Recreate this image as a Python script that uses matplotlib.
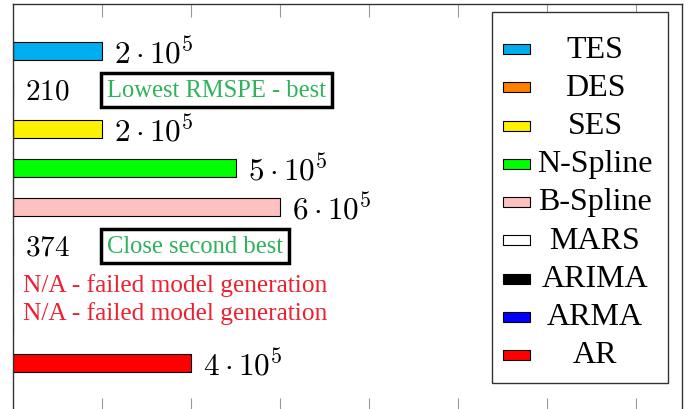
import numpy as np
import matplotlib
matplotlib.use("Agg")
import matplotlib.pyplot as plt
from matplotlib.patches import Rectangle

# RMSPE per model (NaN = model generation failed)
models = ["TES", "DES", "SES", "N-Spline", "B-Spline", "MARS", "ARIMA", "ARMA", "AR"]
rmspe = [2e5, 210, 2e5, 5e5, 6e5, 374, np.nan, np.nan, 4e5]
colors = ["#00aeef", "#ff8000", "#fff200", "#00ff00", "#ffc0c0",
          "#ffffff", "#000000", "#0000ff", "#ff0000"]
notes = {"DES": "Lowest RMSPE - best", "MARS": "Close second best"}
na_text = "N/A - failed model generation"

plt.rcParams['font.family'] = ['Liberation Serif', 'DejaVu Serif']
plt.rcParams['mathtext.fontset'] = 'cm'

W, H = 697, 410
fig = plt.figure(figsize=(W/100, H/100), dpi=100)
ax = fig.add_axes([13/W, -2/H, (682-13)/W, (412-4.5)/H])

y = np.arange(len(models))
vals = np.nan_to_num(rmspe)
ax.barh(y, vals, height=0.46, color=colors, edgecolor='black', linewidth=0.8)
ax.set_xlim(0, 1.503e6)
ax.set_ylim(9.23, -1.218)

ax.set_xticks(np.arange(2e5, 15e5, 2e5))
ax.tick_params(axis='x', direction='in', length=9.4, width=0.8, color='#999999',
               top=True, bottom=True, labelbottom=False, labeltop=False)
ax.tick_params(axis='y', left=False, labelleft=False)
for s in ax.spines.values():
    s.set_color('#333333')
    s.set_linewidth(1.0)

px = 72/100  # points per pixel
n_na = 0
for i, (m, v) in enumerate(zip(models, rmspe)):
    if np.isnan(v):
        # the second failed row sits a bit higher in the original
        ax.annotate(na_text, (0, i), xytext=(10*px, (1 + 11*n_na)*px),
                    textcoords='offset points', va='center', ha='left',
                    fontsize=18.3, color='#ee2030')
        n_na += 1
    elif v >= 1000:
        e = int(np.floor(np.log10(v)))
        lab = r"$%g\cdot10^{%d}$" % (v/10**e, e)
        ax.annotate(lab, (v, i), xytext=(12*px, -2*px), textcoords='offset points',
                    va='center', ha='left', fontsize=22.5)
    else:
        ax.annotate(r"$%d$" % v, (0, i), xytext=(12*px, -1*px), textcoords='offset points',
                    va='center', ha='left', fontsize=21)
    if m in notes:
        ax.annotate(notes[m], (0, i), xytext=(94*px, 0), textcoords='offset points',
                    va='center', ha='left', fontsize=17.7, color='#2eb35a',
                    bbox=dict(boxstyle='square,pad=0.25', fc='white', ec='black', lw=2.5))

# legend drawn by hand so the entries can be centred like the original
def fx(p):
    return p / W

def fy(p):
    return 1 - p / H

fig.patches.append(Rectangle((fx(492), fy(384)), fx(668)-fx(492), fy(13)-fy(384),
                             transform=fig.transFigure, fc='white', ec='#333333', lw=1.0))
for i, (m, c) in enumerate(zip(models, colors)):
    yc = 50 + 38.25*i
    fig.patches.append(Rectangle((fx(503), fy(yc+5)), fx(27), 10/H,
                                 transform=fig.transFigure, fc=c, ec='black', lw=0.8))
    fig.text(fx(595), fy(yc), m, ha='center', va='center', fontsize=23)

fig.savefig("out.png", dpi=100)
